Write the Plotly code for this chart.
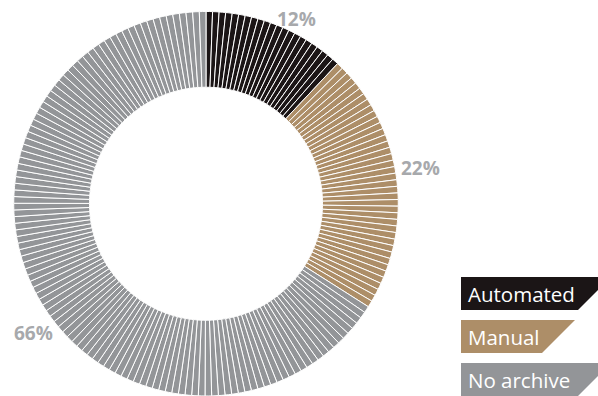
import plotly.graph_objects as go

# Archive method shares (percent)
categories = ["Automated", "Manual", "No archive"]
shares = [12, 22, 66]
colors = ["#1b1516", "#ad8e68", "#939598"]

W, H = 598, 396
SEG_PER_PCT = 1.8  # ring is split into thin 2-degree wedges

# Split each category into equal thin wedges so the ring shows fine spokes
values, slice_colors = [], []
for share, col in zip(shares, colors):
    n = max(1, round(share * SEG_PER_PCT))
    values += [share / n] * n
    slice_colors += [col] * n

fig = go.Figure(
    go.Pie(
        values=values,
        sort=False,
        direction="clockwise",
        rotation=0,
        hole=0.606,
        textinfo="none",
        hoverinfo="skip",
        showlegend=False,
        marker=dict(colors=slice_colors, line=dict(color="#ffffff", width=1)),
        domain=dict(x=[13 / W, 399 / W], y=[0, 0.971]),
    )
)


def px(x):
    return x / W


def py(y):
    return 1 - y / H


# Percentage labels around the ring
label_pos = [(296, 19), (420, 168), (33, 333)]
for share, (lx, ly) in zip(shares, label_pos):
    fig.add_annotation(
        x=px(lx), y=py(ly), xref="paper", yref="paper",
        text=f"<b>{share}%</b>", showarrow=False,
        font=dict(family="Open Sans, Noto Sans, sans-serif", size=19, color="#a7a9ac"),
        xanchor="center", yanchor="middle",
    )

# Slanted legend tags
box_specs = [(277, 310, 611), (320, 353, 575), (363, 396, 611)]
for name, col, (top, bot, right) in zip(categories, colors, box_specs):
    slant = bot - top
    left = 461
    path = (
        f"M {px(left)},{py(top)} L {px(right)},{py(top)} "
        f"L {px(right - slant)},{py(bot)} L {px(left)},{py(bot)} Z"
    )
    fig.add_shape(type="path", xref="paper", yref="paper", path=path,
                  fillcolor=col, line=dict(width=0), layer="above")
    fig.add_annotation(
        x=px(466), y=py((top + bot) / 2), xref="paper", yref="paper",
        text=name, showarrow=False, xanchor="left", yanchor="middle",
        font=dict(family="Open Sans, Noto Sans, sans-serif", size=20.5,
                  color="#ffffff"),
    )

fig.update_layout(
    width=W, height=H,
    margin=dict(l=0, r=0, t=0, b=0),
    paper_bgcolor="#ffffff", plot_bgcolor="#ffffff",
)

fig.write_html("out.html")
